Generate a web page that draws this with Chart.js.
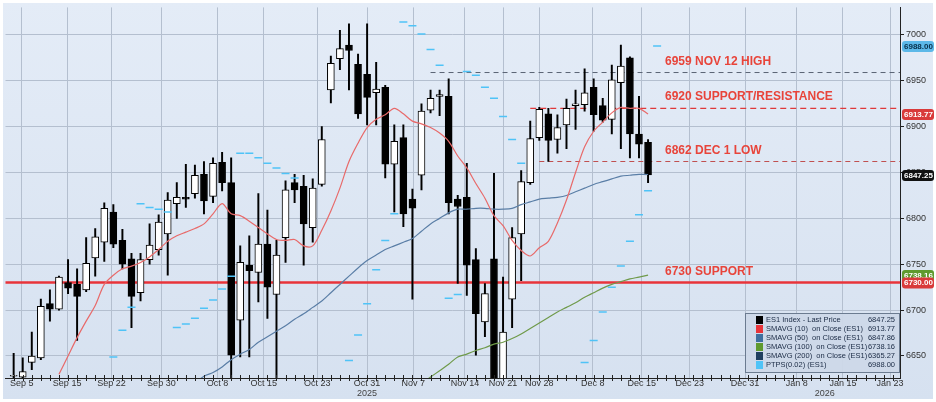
<!DOCTYPE html>
<html>
<head>
<meta charset="utf-8">
<script src="https://cdn.jsdelivr.net/npm/chart.js@4.4.1/dist/chart.umd.min.js"></script>
<style>
  body { margin: 0; background: #fff; }
  canvas { display: block; }
</style>
</head>
<body>
<canvas id="esChart" width="936" height="402"></canvas>
<script>
// ==================== DATA ====================
const opens  = [6628,6627,6643,6648,6707,6701,6730,6728,6722,6757,6774,6807,6776,6756,6719,6755,6766,6783,6816,6823,6827,6848,6824,6861,6839,6689,6749,6741,6772,6717,6779,6839,6835,6790,6837,6940,6974,6989,6968,6957,6937,6943,6859,6888,6821,6847,6918,6933,6933,6821,6823,6755,6687,6756,6600,6712,6783,6839,6888,6914,6886,6902,6923,6924,6943,6923,6908,6948,6975,6892,6883];
const highs  = [6653,6648,6676,6712,6722,6737,6755,6745,6779,6789,6817,6815,6788,6762,6762,6794,6804,6828,6839,6859,6858,6862,6866,6872,6866,6770,6781,6827,6809,6776,6841,6848,6847,6843,6900,6977,7005,7012,6979,7012,6970,6945,6902,6902,6832,6925,6940,6940,6952,6825,6860,6767,6729,6849,6736,6790,6852,6906,6921,6920,6913,6930,6940,6963,6952,6931,6967,6989,6976,6933,6886];
const lows   = [6600,6622,6635,6646,6688,6700,6718,6667,6720,6737,6753,6768,6745,6681,6710,6750,6760,6738,6800,6812,6822,6805,6817,6830,6600,6649,6649,6709,6691,6600,6752,6817,6749,6774,6835,6926,6962,6940,6909,6902,6902,6844,6807,6791,6712,6831,6915,6912,6805,6729,6716,6651,6671,6600,6600,6681,6732,6837,6885,6862,6871,6876,6897,6917,6895,6905,6892,6876,6866,6866,6839];
const closes = [6629,6633,6650,6704,6701,6736,6724,6715,6751,6780,6811,6772,6750,6715,6755,6771,6796,6820,6823,6821,6847,6819,6860,6839,6651,6752,6743,6772,6725,6760,6831,6831,6794,6833,6886,6969,6985,6983,6914,6932,6941,6859,6884,6805,6811,6917,6931,6935,6817,6813,6749,6696,6718,6600,6676,6779,6840,6887,6919,6885,6899,6920,6925,6937,6913,6907,6951,6966,6892,6881,6847.25];

const sma10 = [null,null,null,null,null,6630,6650,6670,6688,6705,6728,6738,6745,6748,6752,6758,6766,6775,6781,6785,6789,6794,6805,6816,6805,6803,6797,6790,6783,6777,6776,6777,6770,6770,6787,6808,6833,6862,6882,6899,6908,6913,6920,6914,6906,6903,6899,6893,6884,6868,6855,6838,6822,6803,6792,6776,6765,6759,6768,6775,6795,6820,6850,6878,6895,6905,6915,6921,6920,6920,6913.77];
const sma50 = [null,null,null,null,null,null,null,null,null,null,null,null,null,null,null,null,null,null,null,null,6620,6628,6632,6638,6646,6652,6657,6665,6671,6677,6683,6690,6696,6703,6710,6719,6728,6737,6746,6754,6760,6766,6770,6774,6778,6786,6794,6800,6806,6810,6810,6811,6811,6810,6810,6811,6815,6818,6821,6822,6823,6825,6829,6833,6837,6840,6843,6846,6847,6848,6847.86];
const sma100 = [null,null,null,null,null,null,null,null,null,null,null,null,null,null,null,null,null,null,null,null,null,null,null,null,null,null,null,null,null,null,null,null,null,null,null,null,null,null,null,null,null,null,null,null,null,6620,6627,6634,6641,6649,6652,6656,6659,6663,6665,6669,6674,6680,6686,6692,6698,6703,6708,6714,6719,6724,6728,6731,6734,6736,6738.16];
const ptps = [null,null,null,null,null,null,null,null,null,null,null,6649,6678,6703,6816,6812,6810,6807,6681,6685,6691,6702,6711,6723,6737,6871,6871,6866,6860,6855,6849,6844,null,null,null,null,null,6645,6673,6707,6744,6776,6805,7014,7010,7001,6984,6967,6713,6717,6960,6956,6943,6931,6911,6886,6860,null,null,null,null,null,null,6643,6667,6698,6725,6748,6775,6804,6830,6988];

const xTickPos    = [0.9,5.9,10.8,16.3,22.5,27.6,33.5,39,44.1,49.8,54,58,63.9,69.3,74.6,80.7,86.4,91.5,96.7];
const xTickLabels = ["Sep 5","Sep 15","Sep 22","Sep 30","Oct 8","Oct 15","Oct 23","Oct 31","Nov 7","Nov 14","Nov 21","Nov 28","Dec 8","Dec 15","Dec 23","Dec 31","Jan 8","Jan 15","Jan 23"];
const yTicks = [6650, 6700, 6750, 6800, 6850, 6900, 6950, 7000];
const years = [{ label: "2025", x: 39 }, { label: "2026", x: 89.5 }];

const levels = [
  { value: 6959, from: 46, text: "6959 NOV 12 HIGH", color: "#5a6474", dash: [5, 4], width: 1 },
  { value: 6920, from: 57, text: "6920 SUPPORT/RESISTANCE", color: "#e0393a", dash: [6, 4], width: 1.2 },
  { value: 6862, from: 58, text: "6862 DEC 1 LOW", color: "#c05050", dash: [5, 4], width: 1 },
  { value: 6730, from: -1, text: "6730 SUPPORT", color: "#e8343a", dash: [], width: 2.5 }
];
const tags = [
  { value: 6988, text: "6988.00", bg: "#5cb8e8", fg: "#08304a" },
  { value: 6913.77, text: "6913.77", bg: "#d93a3a", fg: "#fff" },
  { value: 6847.25, text: "6847.25", bg: "#111", fg: "#fff" },
  { value: 6738.16, text: "6738.16", bg: "#5f9a2e", fg: "#fff" },
  { value: 6730, text: "6730.00", bg: "#d93a3a", fg: "#fff" }
];
const legendRows = [
  ["#000000", "ES1 Index - Last Price", "6847.25"],
  ["#e8343a", "SMAVG (10)  on Close (ES1)", "6913.77"],
  ["#3f6f9f", "SMAVG (50)  on Close (ES1)", "6847.86"],
  ["#5f9a2e", "SMAVG (100)  on Close (ES1)", "6738.16"],
  ["#1f3f5f", "SMAVG (200)  on Close (ES1)", "6365.27"],
  ["#4fc3f7", "PTPS(0.02) (ES1)", "6988.00"]
];

// ==================== BUILD ====================
const toXY = arr => arr.map((v, i) => ({ x: i, y: v }));
const wicks = lows.map((l, i) => ({ x: i, y: [l, highs[i]] }));
const bodies = opens.map((o, i) => ({ x: i, y: [o, closes[i] === o ? o + 0.8 : closes[i]] }));
const bodyFill = opens.map((o, i) => closes[i] >= o ? "#ffffff" : "#000000");

const levelSets = levels.map(lv => ({
  type: "line",
  data: [{ x: lv.from, y: lv.value }, { x: 97.8, y: lv.value }],
  borderColor: lv.color, borderWidth: lv.width, borderDash: lv.dash,
  pointRadius: 0, order: 5
}));

const fontFam = "'Liberation Sans', Arial, sans-serif";

const bgPlugin = {
  id: "bg",
  beforeDraw(chart) {
    const { ctx, width, height } = chart;
    const g = ctx.createLinearGradient(0, 0, 0, height);
    g.addColorStop(0, "#e4ecf7");
    g.addColorStop(1, "#d6e1f0");
    ctx.save();
    ctx.fillStyle = "#fff";
    ctx.fillRect(0, 0, width, height);
    ctx.fillStyle = g;
    ctx.fillRect(3, 3, width - 6, height - 6);
    ctx.restore();
  }
};

const overlayPlugin = {
  id: "overlay",
  afterDatasetsDraw(chart) {
    const { ctx, scales: { x, y }, chartArea } = chart;
    ctx.save();
    // level texts
    ctx.font = "bold 12px " + fontFam;
    ctx.fillStyle = "#e8443a";
    levels.forEach(lv => {
      ctx.fillText(lv.text, 665, y.getPixelForValue(lv.value) - 8);
    });
    // minor day ticks
    ctx.strokeStyle = "#222";
    ctx.lineWidth = 1;
    ctx.beginPath();
    for (let i = 0; i <= 97; i++) {
      const px = Math.round(x.getPixelForValue(i)) + 0.5;
      ctx.moveTo(px, chartArea.bottom - 3);
      ctx.lineTo(px, chartArea.bottom + 3);
    }
    ctx.stroke();
    ctx.restore();
  },
  afterDraw(chart) {
    const { ctx, scales: { x, y }, chartArea } = chart;
    ctx.save();
    // years
    ctx.font = "9px " + fontFam;
    ctx.fillStyle = "#444";
    ctx.textAlign = "center";
    years.forEach(yr => ctx.fillText(yr.label, x.getPixelForValue(yr.x), 396));
    // tags
    ctx.font = "bold 8px " + fontFam;
    ctx.textAlign = "left";
    ctx.textBaseline = "middle";
    tags.forEach(t => {
      const py = y.getPixelForValue(t.value);
      ctx.fillStyle = t.bg;
      ctx.beginPath();
      ctx.roundRect(chartArea.right + 2, py - 5, 32, 11, 3);
      ctx.fill();
      ctx.fillStyle = t.fg;
      ctx.fillText(t.text, chartArea.right + 4, py + 0.5);
    });
    // legend box
    const lx = 745, ly = 313, lw = 154, lh = 59;
    ctx.fillStyle = "rgba(205,216,232,0.95)";
    ctx.strokeStyle = "#6b7b90";
    ctx.lineWidth = 1;
    ctx.fillRect(lx, ly, lw, lh);
    ctx.strokeRect(lx + 0.5, ly + 0.5, lw, lh);
    ctx.font = "7.5px " + fontFam;
    legendRows.forEach((r, i) => {
      const ry = ly + 7 + i * 9;
      ctx.fillStyle = r[0];
      ctx.fillRect(lx + 11, ry - 4, 7, 8);
      ctx.fillStyle = "#1a2a44";
      ctx.textAlign = "left";
      ctx.fillText(r[1], lx + 21, ry);
      ctx.textAlign = "right";
      ctx.fillText(r[2], lx + lw - 4, ry);
    });
    ctx.restore();
  }
};

// ==================== CHART ====================
new Chart(document.getElementById("esChart"), {
  data: {
    datasets: [
      { type: "bar", data: wicks, backgroundColor: "#000", barThickness: 1.3, grouped: false, order: 3 },
      { type: "bar", data: bodies, backgroundColor: bodyFill, borderColor: "#000", borderWidth: 1, borderSkipped: false, barThickness: 7, grouped: false, order: 2 },
      { type: "line", data: toXY(sma10), borderColor: "#e86a6a", borderWidth: 1.2, pointRadius: 0, tension: 0.3, order: 1 },
      { type: "line", data: toXY(sma50), borderColor: "#5a7ea6", borderWidth: 1.2, pointRadius: 0, tension: 0.3, order: 1 },
      { type: "line", data: toXY(sma100), borderColor: "#6f9a4a", borderWidth: 1.2, pointRadius: 0, tension: 0.3, order: 1 },
      { type: "line", data: toXY(ptps), showLine: false, pointStyle: "line", pointRadius: 4, pointBorderColor: "#4fc3f7", pointBorderWidth: 1.5, order: 1 },
      ...levelSets
    ]
  },
  options: {
    responsive: false,
    animation: false,
    layout: { padding: { left: 5, top: 5, right: 0, bottom: 2 } },
    plugins: { legend: { display: false }, tooltip: { enabled: false } },
    scales: {
      x: {
        type: "linear", min: -0.9, max: 97.8, offset: false,
        afterBuildTicks: s => { s.ticks = xTickPos.map(v => ({ value: v })); },
        afterFit: s => { s.height = 22; },
        ticks: {
          autoSkip: false, maxRotation: 0, padding: 0,
          font: { size: 9, family: fontFam }, color: "#333",
          callback: (v, i) => xTickLabels[i]
        },
        grid: { color: "#b4bfcf", lineWidth: 1, drawTicks: false, offset: false },
        border: { color: "#222" }
      },
      y: {
        position: "right", min: 6626, max: 7030,
        afterBuildTicks: s => { s.ticks = yTicks.map(v => ({ value: v })); },
        afterFit: s => { s.width = 36; },
        ticks: { font: { size: 9, family: fontFam }, color: "#333", padding: 2, callback: v => String(v) },
        grid: { color: "#b4bfcf", lineWidth: 1, tickLength: 4, tickColor: "#222" },
        border: { color: "#222" }
      }
    }
  },
  plugins: [bgPlugin, overlayPlugin]
});
</script>
</body>
</html>
